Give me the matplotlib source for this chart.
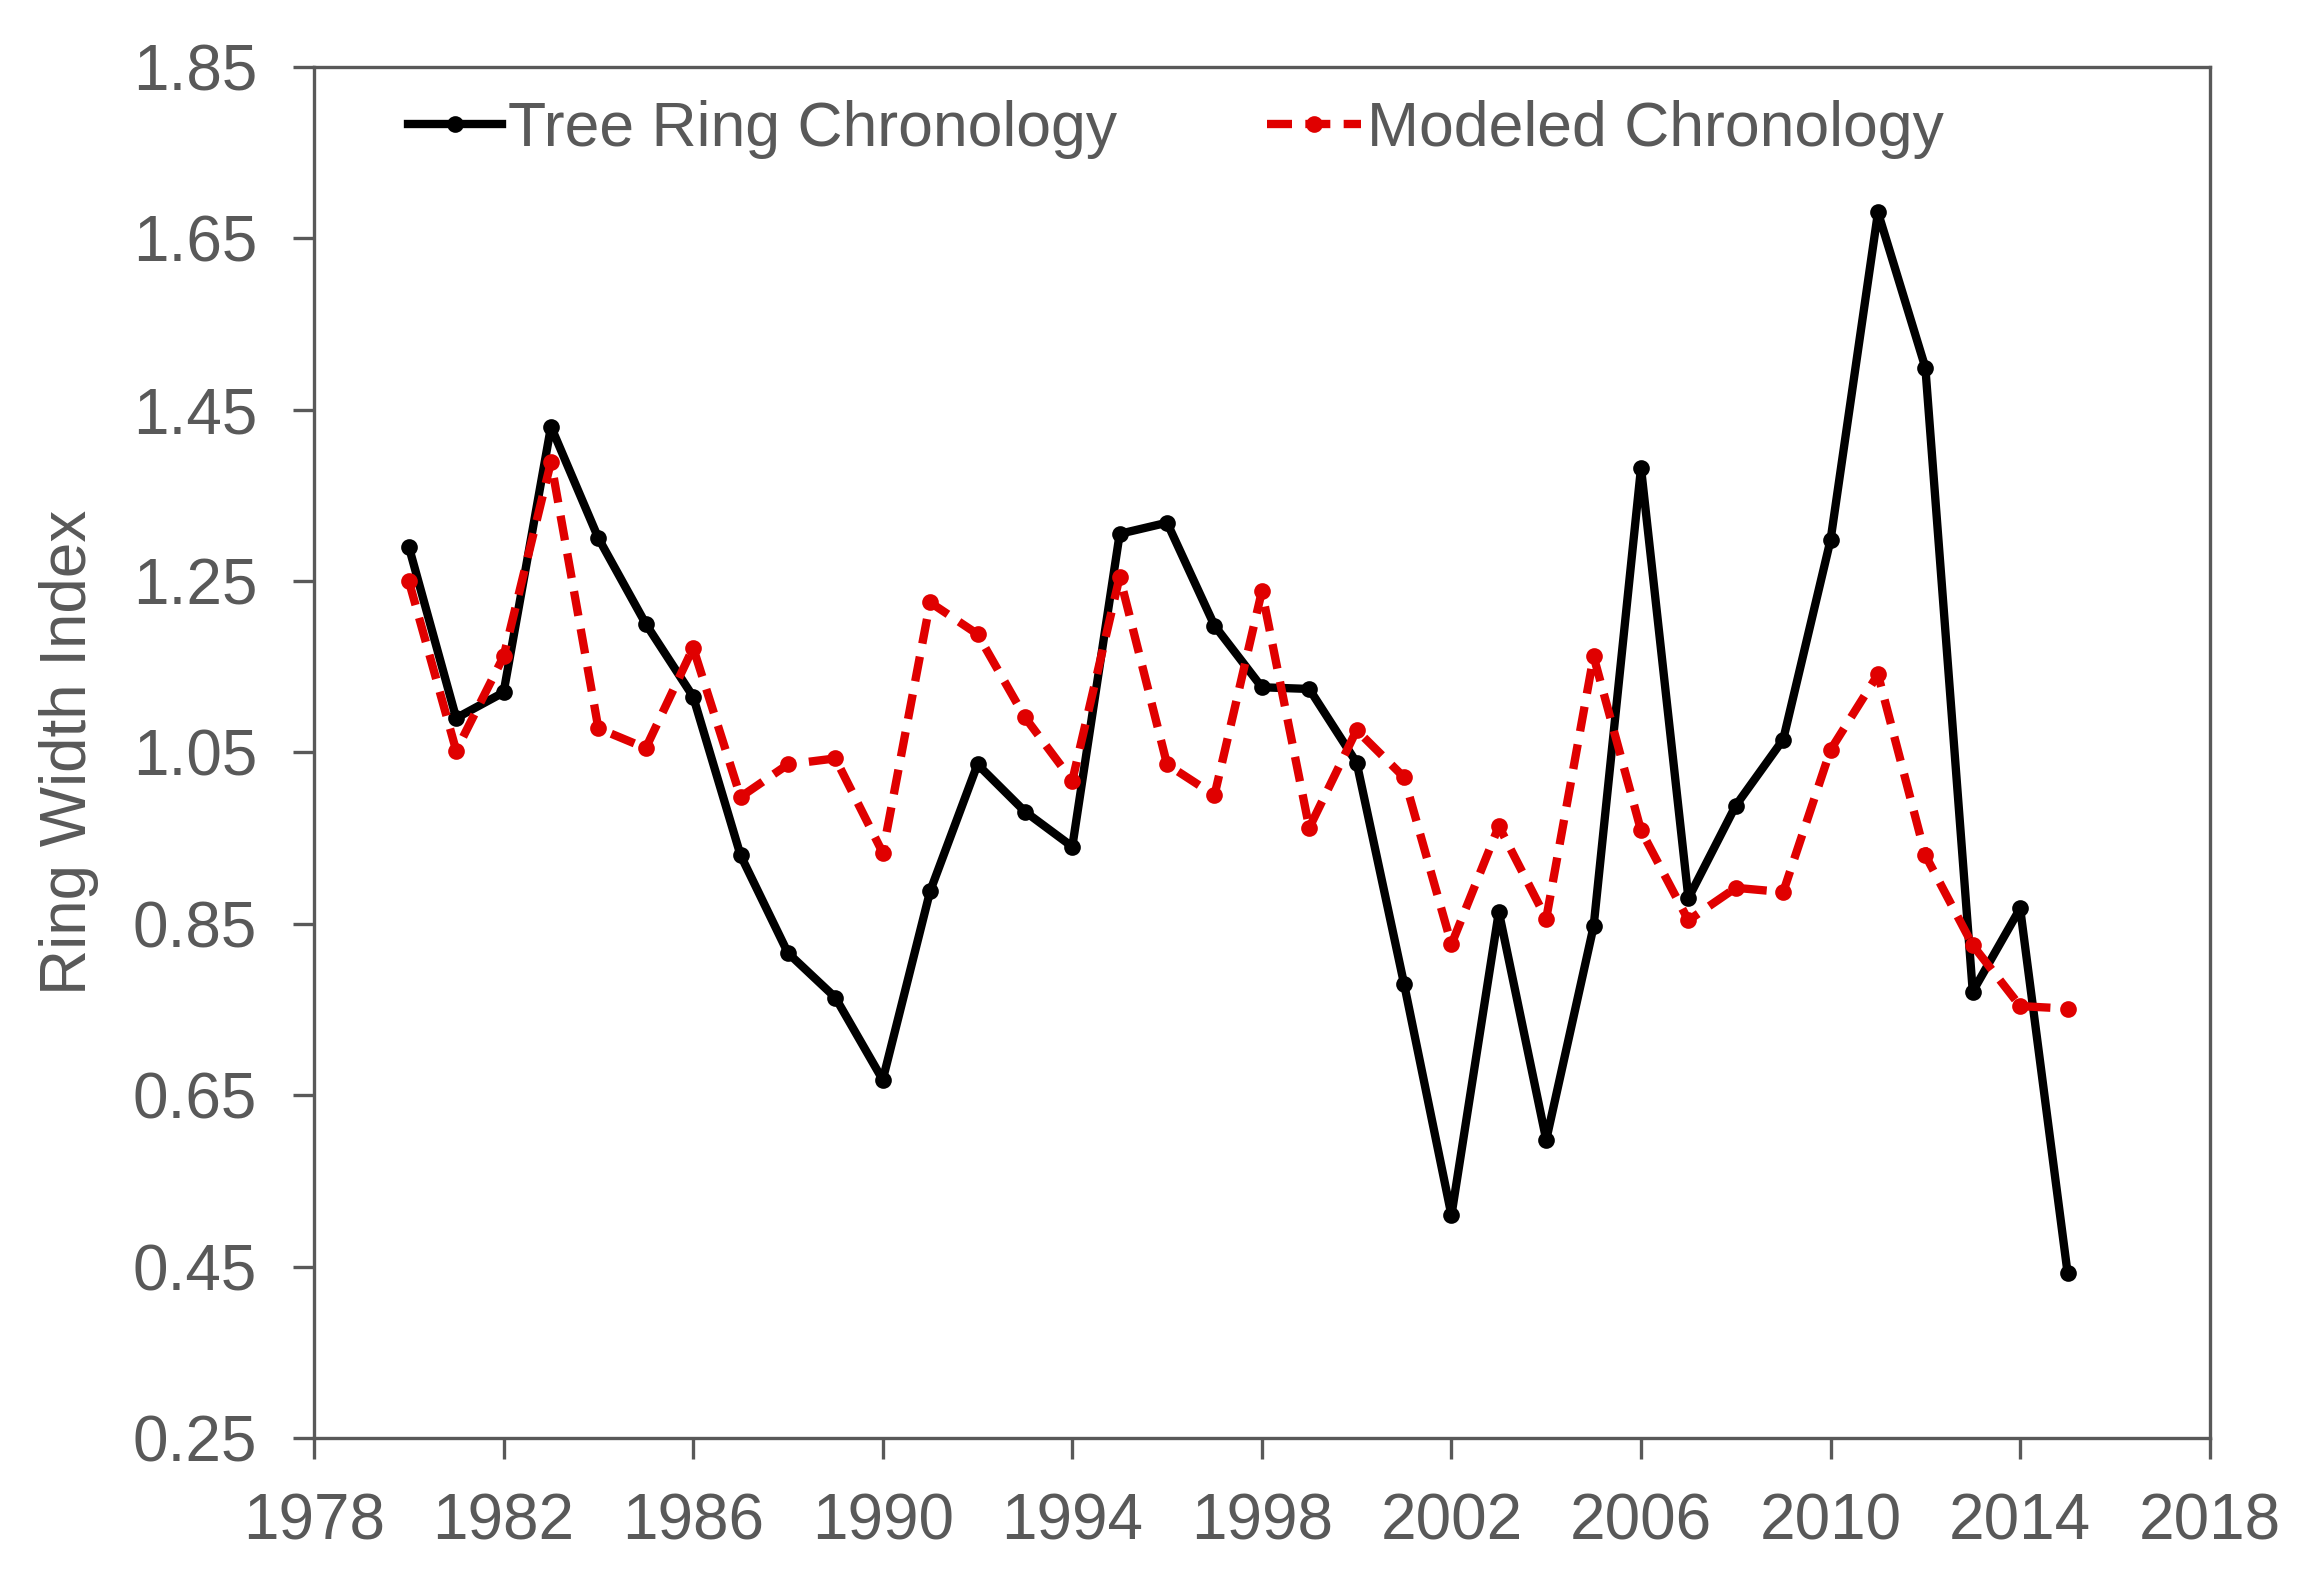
import matplotlib
matplotlib.use('Agg')
from matplotlib import pyplot as plt

years = list(range(1980, 2016))

tree_ring = [1.29, 1.09, 1.12, 1.43, 1.30, 1.20, 1.115, 0.93, 0.816, 0.764,
             0.668, 0.888, 1.036, 0.981, 0.94, 1.305, 1.318, 1.198, 1.126, 1.124,
             1.038, 0.78, 0.51, 0.864, 0.598, 0.847, 1.382, 0.88, 0.988, 1.065,
             1.298, 1.68, 1.499, 0.771, 0.868, 0.443]

modeled = [1.25, 1.052, 1.162, 1.389, 1.078, 1.055, 1.172, 0.998, 1.036, 1.043,
           0.933, 1.225, 1.188, 1.091, 1.017, 1.255, 1.036, 1.0, 1.238, 0.962,
           1.076, 1.021, 0.826, 0.964, 0.856, 1.162, 0.959, 0.854, 0.892, 0.887,
           1.053, 1.141, 0.93, 0.825, 0.754, 0.751]

x_ticks = list(range(1978, 2019, 4))
y_ticks = [0.25, 0.45, 0.65, 0.85, 1.05, 1.25, 1.45, 1.65, 1.85]

plt.rcParams['font.family'] = ['Liberation Sans', 'DejaVu Sans']
gray = '#595959'

fig = plt.figure(figsize=(11.545, 7.945), dpi=200)
ax = fig.add_axes([0.136, 0.095, 0.821, 0.863])

# lines
ax.plot(years, tree_ring, color='black', lw=3, marker='o', ms=5,
        label='Tree Ring Chronology')
ax.plot(years, modeled, color='#e00000', lw=3, ls=(0, (3, 1.6)), marker='o', ms=5,
        label='Modeled Chronology')

ax.set_xlim(1978, 2018)
ax.set_ylim(0.25, 1.85)
ax.set_xticks(x_ticks)
ax.set_yticks(y_ticks)
ax.set_yticklabels(['%.2f' % v for v in y_ticks])

ax.tick_params(axis='both', direction='out', length=7.5, width=1.2, color=gray,
               labelcolor=gray, labelsize=23)
ax.tick_params(axis='y', pad=13)
ax.tick_params(axis='x', pad=12)
for s in ax.spines.values():
    s.set_color(gray)
    s.set_linewidth(1.2)

ax.set_ylabel('Ring Width Index', color=gray, fontsize=23, labelpad=12)

ax.legend(loc='upper left', bbox_to_anchor=(0.02, 1.017), ncol=2, frameon=False,
          fontsize=22.5, handlelength=1.5, handletextpad=0.1, columnspacing=2.4,
          labelcolor=gray)

plt.savefig('out.png', dpi=200)
